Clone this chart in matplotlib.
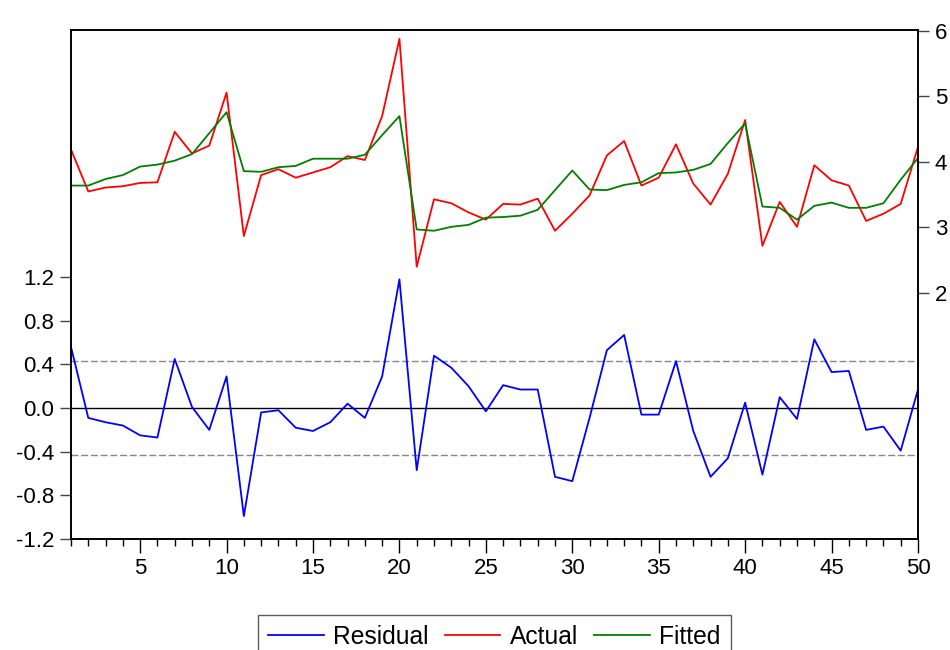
import numpy as np
import matplotlib
matplotlib.use("Agg")
import matplotlib.pyplot as plt
from matplotlib.ticker import FormatStrFormatter, MultipleLocator

plt.rcParams['font.family'] = ['Liberation Sans', 'DejaVu Sans']
plt.rcParams['axes.unicode_minus'] = False

## data
obs = np.arange(1, 51)

residual = [0.56, -0.09, -0.13, -0.16, -0.25, -0.27, 0.45, 0.01, -0.20, 0.29,
            -0.99, -0.04, -0.02, -0.18, -0.21, -0.13, 0.04, -0.09, 0.29, 1.18,
            -0.57, 0.48, 0.37, 0.20, -0.03, 0.21, 0.17, 0.17, -0.63, -0.67,
            -0.09, 0.53, 0.67, -0.06, -0.06, 0.43, -0.21, -0.63, -0.46, 0.05,
            -0.61, 0.10, -0.10, 0.63, 0.33, 0.34, -0.20, -0.17, -0.39, 0.17]

actual = [4.19, 3.55, 3.61, 3.63, 3.68, 3.69, 4.46, 4.13, 4.25, 5.06,
          2.87, 3.80, 3.89, 3.76, 3.84, 3.92, 4.09, 4.03, 4.70, 5.88,
          2.40, 3.43, 3.37, 3.23, 3.12, 3.36, 3.35, 3.44, 2.95, 3.21,
          3.49, 4.10, 4.32, 3.64, 3.76, 4.27, 3.67, 3.35, 3.82, 4.64,
          2.72, 3.39, 3.01, 3.95, 3.72, 3.64, 3.10, 3.21, 3.36, 4.23]

fitted = [3.64, 3.64, 3.74, 3.80, 3.93, 3.96, 4.02, 4.12, 4.44, 4.76,
          3.86, 3.85, 3.92, 3.94, 4.05, 4.05, 4.05, 4.11, 4.41, 4.70,
          2.97, 2.95, 3.01, 3.04, 3.15, 3.16, 3.18, 3.27, 3.57, 3.87,
          3.58, 3.57, 3.65, 3.69, 3.83, 3.84, 3.88, 3.97, 4.29, 4.59,
          3.32, 3.30, 3.12, 3.33, 3.38, 3.30, 3.30, 3.37, 3.73, 4.06]

se_band = 0.43

fs = 16
fig = plt.figure(figsize=(9.5, 6.5), dpi=100)
ax = fig.add_axes([71/950, 1 - 539/650, (918 - 71)/950, (539 - 30)/650])
ax2 = ax.twinx()

# residual panel (left axis)
ax.axhline(0, color='black', lw=1.0, zorder=1)
ax.axhline(se_band, color='#888888', lw=1.0, ls=(0, (5, 2)), zorder=1)
ax.axhline(-se_band, color='#888888', lw=1.0, ls=(0, (5, 2)), zorder=1)
l1, = ax.plot(obs, residual, color='blue', lw=1.3, label='Residual')

# actual / fitted (right axis)
l2, = ax2.plot(obs, actual, color='red', lw=1.3, label='Actual')
l3, = ax2.plot(obs, fitted, color='green', lw=1.3, label='Fitted')

ax.set_xlim(1, 50)
ax.set_ylim(-1.2, 3.465)
ax.set_yticks([-1.2, -0.8, -0.4, 0.0, 0.4, 0.8, 1.2])
ax.yaxis.set_major_formatter(FormatStrFormatter('%.1f'))
ax.set_xticks(np.arange(5, 51, 5))
ax.xaxis.set_minor_locator(MultipleLocator(1))

ax2.set_ylim(-1.756, 6.015)
ax2.set_yticks([2, 3, 4, 5, 6])

ax.tick_params(axis='x', which='major', direction='out', length=10, width=1,
               labelsize=fs, pad=4)
ax.tick_params(axis='x', which='minor', direction='out', length=5, width=1)
ax.tick_params(axis='y', direction='out', length=8, width=1, labelsize=fs,
               pad=4, color='#444444')
ax2.tick_params(axis='y', direction='out', length=8, width=1, labelsize=fs,
                pad=4, color='#444444')

for sp in ax.spines.values():
    sp.set_linewidth(1.2)
for sp in ax2.spines.values():
    sp.set_linewidth(1.2)

leg = ax.legend(handles=[l1, l2, l3], loc='upper center',
                bbox_to_anchor=(0.5, -0.149), ncol=3, frameon=True,
                fancybox=False, edgecolor='#333333', fontsize=17.7,
                handlelength=2.25, columnspacing=0.65, borderaxespad=0,
                handletextpad=0.4, borderpad=0.4)
leg.get_frame().set_linewidth(1.0)

fig.savefig('out.png', dpi=100)
